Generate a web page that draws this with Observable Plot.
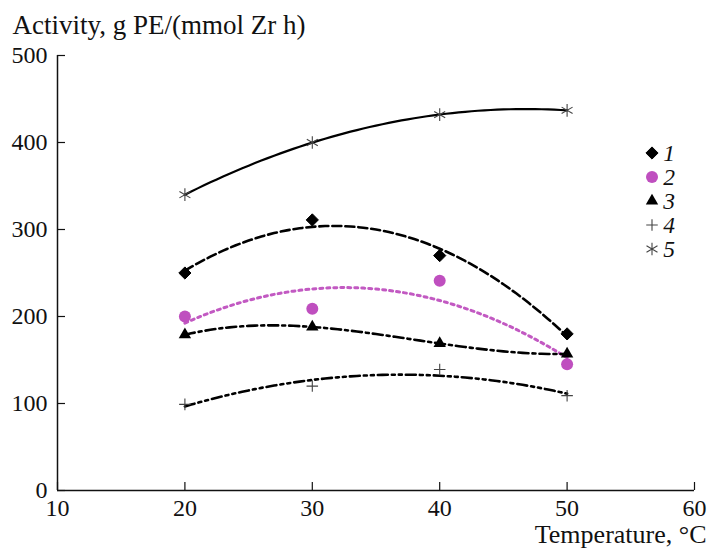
<!DOCTYPE html>
<html><head><meta charset="utf-8">
<script src="https://cdn.jsdelivr.net/npm/d3@7"></script>
<script src="https://cdn.jsdelivr.net/npm/@observablehq/plot@0.6"></script>
<style>
body{margin:0;background:#fff}
#wrap{position:relative;width:709px;height:550px;font-family:"Liberation Serif","Times New Roman",serif}
</style>
</head><body><div id="wrap"></div>
<script>
// ---- data ----
const temperatures = [20, 30, 40, 50];
const seriesNames = ["1", "2", "3", "4", "5"];
const activity1 = [250, 311, 270, 180];
const activity2 = [200, 209, 241, 145];
const activity3 = [179, 188, 169, 157];
const activity4 = [99, 120, 139, 109];
const activity5 = [340, 400, 432, 437];
const fitDegrees = [2, 2, 3, 2, 2];
const xTicks = [10, 20, 30, 40, 50, 60];
const yTicks = [0, 100, 200, 300, 400, 500];

const allActivity = [activity1, activity2, activity3, activity4, activity5];

// ---- styles per series ----
const styles = {
  "1": {symbol: "diamond2", r: 5.5, fill: "#000", stroke: "#000", sw: 1, line: "#000", dash: "9,4", lw: 2.6},
  "2": {symbol: "circle", r: 6, fill: "#bf4fbf", stroke: "none", sw: 0, line: "#c259c2", dash: "3,4", lw: 3},
  "3": {symbol: "triangle", r: 4.6, fill: "#000", stroke: "none", sw: 0, line: "#000", dash: "10,4,3,4", lw: 2.6},
  "4": {symbol: "plus", r: 3.8, fill: "none", stroke: "#444", sw: 1.1, line: "#000", dash: "10,4,3,4,3,4", lw: 2.6},
  "5": {symbol: "asterisk", r: 6, fill: "none", stroke: "#444", sw: 1.1, line: "#000", dash: null, lw: 2.2}
};

const points = [];
seriesNames.forEach((s, i) => temperatures.forEach((t, j) => points.push({series: s, t, a: allActivity[i][j]})));

// least-squares polynomial trend line computed from each series' points
function polyFit(xs, ys, deg) {
  const m = deg + 1, x0 = d3.mean(xs);
  const A = Array.from({length: m}, () => new Array(m + 1).fill(0));
  xs.forEach((xv, k) => {
    const x = xv - x0, y = ys[k];
    for (let r = 0; r < m; r++) {
      for (let c = 0; c < m; c++) A[r][c] += x ** (r + c);
      A[r][m] += y * x ** r;
    }
  });
  for (let c = 0; c < m; c++) {
    for (let r = c + 1; r < m; r++) {
      const f = A[r][c] / A[c][c];
      for (let k = c; k <= m; k++) A[r][k] -= f * A[c][k];
    }
  }
  const b = new Array(m).fill(0);
  for (let r = m - 1; r >= 0; r--) {
    let s = A[r][m];
    for (let k = r + 1; k < m; k++) s -= A[r][k] * b[k];
    b[r] = s / A[r][r];
  }
  return xv => b.reduce((acc, bk, k) => acc + bk * (xv - x0) ** k, 0);
}
const tMin = d3.min(temperatures), tMax = d3.max(temperatures);
const fitRows = [];
seriesNames.forEach((s, i) => {
  const f = polyFit(temperatures, allActivity[i], fitDegrees[i]);
  const steps = 60;
  for (let k = 0; k <= steps; k++) {
    const t = tMin + (tMax - tMin) * k / steps;
    fitRows.push({series: s, t, a: f(t)});
  }
});

const font = "'Liberation Serif','Times New Roman',serif";
const lineMarks = seriesNames.map(s => Plot.line(fitRows.filter(d => d.series === s), {
  x: "t", y: "a", stroke: styles[s].line, strokeWidth: styles[s].lw,
  strokeDasharray: styles[s].dash, curve: "linear"
}));
const dotMarks = seriesNames.map(s => Plot.dot(points.filter(d => d.series === s), {
  x: "t", y: "a", symbol: () => styles[s].symbol, r: styles[s].r,
  fill: styles[s].fill, stroke: styles[s].stroke, strokeWidth: styles[s].sw
}));

const chart = Plot.plot({
  width: 709, height: 550,
  marginLeft: 57, marginRight: 15, marginTop: 55, marginBottom: 60,
  style: {fontFamily: font, fontSize: "24px", color: "#111", background: "#fff", overflow: "visible"},
  x: {domain: [10, 60]},
  y: {domain: [0, 500]},
  marks: [
    Plot.ruleX([10], {stroke: "#111", strokeWidth: 1.5}),
    Plot.ruleY([0], {stroke: "#111", strokeWidth: 1.5}),
    Plot.axisX({ticks: xTicks, tickSize: -8, tickPadding: 16, label: null, fontSize: 24, strokeWidth: 1.2}),
    Plot.axisY({ticks: yTicks, tickSize: -8, tickPadding: 18, label: null, fontSize: 24, strokeWidth: 1.2}),
    ...lineMarks,
    ...dotMarks,
    Plot.text(["Activity, g PE/(mmol Zr h)"], {frameAnchor: "top-left", dx: -45, dy: -30, textAnchor: "start", lineAnchor: "middle", fontSize: 27, fill: "#111"}),
    Plot.text(["Temperature, °C"], {frameAnchor: "bottom-right", dx: 12, dy: 44, textAnchor: "end", lineAnchor: "middle", fontSize: 26, fill: "#111"})
  ]
});
document.getElementById("wrap").appendChild(chart);

// legend
const svg = d3.select(chart);
const lg = svg.append("g").attr("transform", "translate(652,153)");
const symMap = {diamond2: d3.symbolDiamond2, circle: d3.symbolCircle, triangle: d3.symbolTriangle, plus: d3.symbolPlus, asterisk: d3.symbolAsterisk};
seriesNames.forEach((s, i) => {
  const st = styles[s];
  const g = lg.append("g").attr("transform", `translate(0,${i * 24})`);
  g.append("path").attr("d", d3.symbol(symMap[st.symbol], Math.PI * st.r * st.r)())
    .attr("fill", st.fill).attr("stroke", st.stroke).attr("stroke-width", st.sw);
  g.append("text").attr("x", 17).attr("dy", "0.35em").attr("font-style", "italic")
    .attr("font-size", 23.5).attr("font-family", font).attr("fill", "#111").text(s);
});
</script></body></html>
